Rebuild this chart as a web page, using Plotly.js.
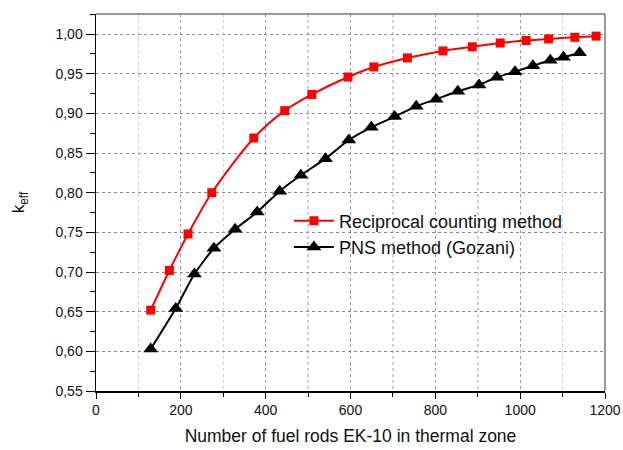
<!DOCTYPE html>
<html>
<head>
<meta charset="utf-8">
<script src="https://cdn.plot.ly/plotly-3.0.1.min.js"></script>
<style>html,body{margin:0;padding:0;background:#fff;}#chart{width:623px;height:450px;}</style>
</head>
<body>
<div id="chart"></div>
<script>
// Reciprocal counting method (red squares)
const rodsReciprocal = [129, 173, 217, 273, 372, 445, 509, 594, 655, 734, 818, 887, 953, 1014, 1067, 1129, 1179];
const keffReciprocal = [0.652, 0.702, 0.748, 0.800, 0.869, 0.9035, 0.924, 0.946, 0.9586, 0.970, 0.9788, 0.984, 0.9888, 0.992, 0.994, 0.996, 0.9975];
// PNS method (Gozani) (black triangles)
const rodsPNS = [129, 188, 232, 278, 328, 380, 433, 483, 541, 596, 649, 704, 755, 802, 853, 903, 945, 988, 1030, 1071, 1102, 1140];
const keffPNS = [0.603, 0.654, 0.6975, 0.730, 0.754, 0.7757, 0.802, 0.822, 0.843, 0.8665, 0.8825, 0.896, 0.909, 0.918, 0.928, 0.936, 0.9456, 0.9527, 0.960, 0.967, 0.971, 0.9766];
const seriesNames = ["Reciprocal counting method", "PNS method (Gozani)"];
const xTitle = "Number of fuel rods EK-10 in thermal zone";
const yTitle = "k<sub>eff</sub>";

const font = "Arial, 'Liberation Sans', sans-serif";

const traces = [
  {
    x: rodsReciprocal, y: keffReciprocal, name: seriesNames[0],
    type: "scatter", mode: "lines+markers",
    line: {color: "#ff0000", width: 2, shape: "spline", smoothing: 0.8},
    marker: {symbol: "square", size: 9, color: "#ff0000"}
  },
  {
    x: rodsPNS, y: keffPNS, name: seriesNames[1],
    type: "scatter", mode: "lines+markers",
    line: {color: "#000000", width: 2, shape: "spline", smoothing: 0.6},
    marker: {symbol: "triangle-up", size: 13, color: "#000000"}
  }
];

const layout = {
  width: 623, height: 450,
  margin: {l: 96, r: 18, t: 14, b: 59},
  paper_bgcolor: "#ffffff", plot_bgcolor: "#ffffff",
  separators: ", ",
  font: {family: font, size: 13, color: "#111"},
  showlegend: true,
  legend: {
    x: 0.379, y: 0.5, xanchor: "left", yanchor: "top",
    bgcolor: "rgba(255,255,255,0)", borderwidth: 0,
    itemwidth: 40,
    font: {family: font, size: 18, color: "#111"},
    traceorder: "normal"
  },
  xaxis: {
    range: [0, 1200], dtick: 200, tick0: 0,
    showline: true, linecolor: "#000", linewidth: 1.5,
    ticks: "outside", ticklen: 6, tickcolor: "#000", tickwidth: 1,
    showgrid: true, gridcolor: "#9a9a9a", gridwidth: 1, griddash: "dot",
    minor: {dtick: 100, ticks: "outside", ticklen: 4, tickcolor: "#000", showgrid: true, gridcolor: "#cfcfcf", gridwidth: 1.5, griddash: "dot"},
    zeroline: false,
    tickfont: {family: font, size: 14, color: "#111"},
    title: {text: xTitle, font: {family: font, size: 17.5, color: "#111"}, standoff: 12}
  },
  yaxis: {
    range: [0.55, 1.0254], dtick: 0.05, tick0: 0.55, tickformat: ".2f",
    showline: true, linecolor: "#000", linewidth: 1.5,
    ticks: "outside", ticklen: 9, tickcolor: "#000", tickwidth: 1,
    showgrid: true, gridcolor: "#8a8a8a", gridwidth: 1, griddash: "dot",
    minor: {dtick: 0.025, ticks: "outside", ticklen: 5, tickcolor: "#000", showgrid: false},
    zeroline: false,
    tickfont: {family: font, size: 14, color: "#111"},
    title: {text: yTitle, font: {family: font, size: 17, color: "#111"}, standoff: 26}
  },
  shapes: [
    {type: "line", xref: "paper", yref: "paper", x0: 0, x1: 1, y0: 1, y1: 1, line: {color: "#777", width: 1.5}},
    {type: "line", xref: "paper", yref: "paper", x0: 1, x1: 1, y0: 0, y1: 1, line: {color: "#777", width: 1.5}}
  ]
};

Plotly.newPlot("chart", traces, layout, {displayModeBar: false, staticPlot: true});
</script>
</body>
</html>
